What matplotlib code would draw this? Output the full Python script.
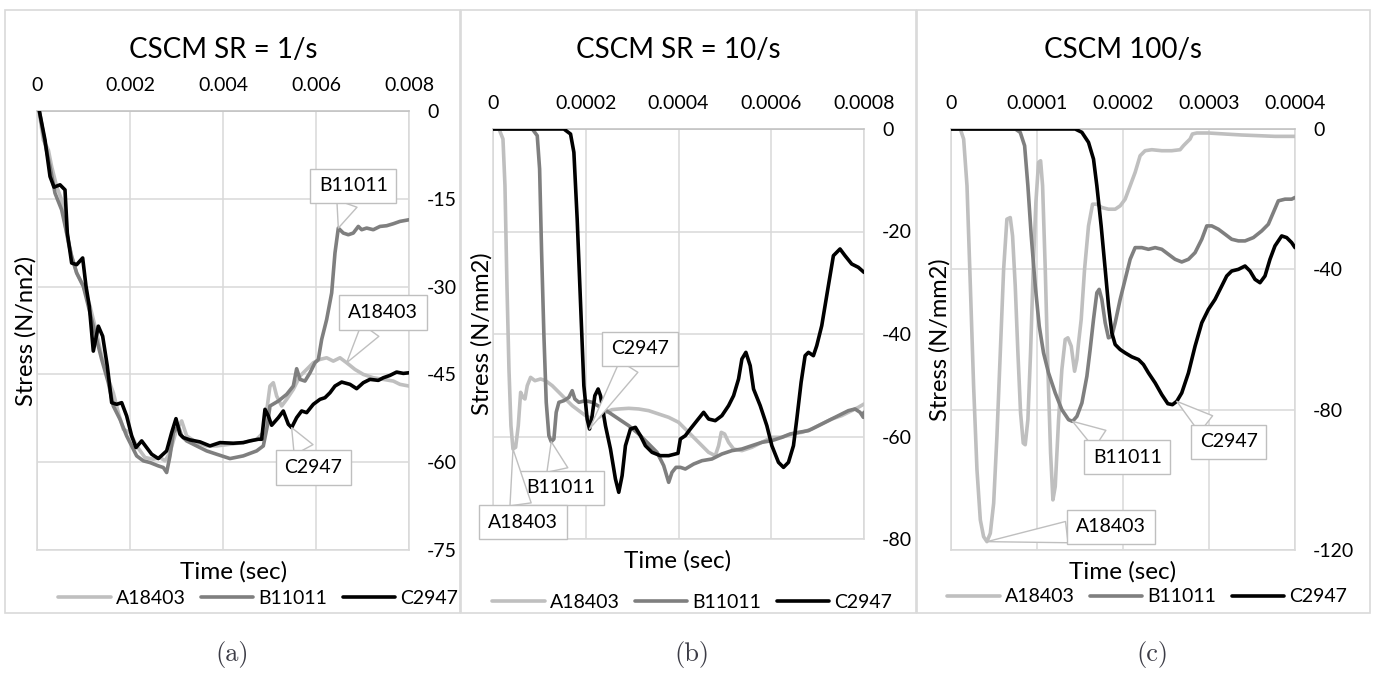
import numpy as np
import matplotlib.pyplot as plt
from matplotlib.patches import Rectangle

plt.rcParams['font.family'] = ['Lato', 'DejaVu Sans']
plt.rcParams['axes.unicode_minus'] = False

W, H = 1383, 674
LIGHT, MID, DARK = '#bfbfbf', '#7f7f7f', '#000000'
GRID = '#d9d9d9'

# ----------------------------
# Panel (a): CSCM SR = 1/s, time in ms, stress in N/mm2
# ----------------------------
a_A_t = [0.05, 0.136, 0.244, 0.315, 0.423, 0.53, 0.602, 0.674, 0.745, 0.853, 0.996, 1.14, 1.283,
         1.391, 1.534, 1.641, 1.749, 1.857, 2.0, 2.143, 2.322, 2.502, 2.645, 2.752, 2.86, 3.003,
         3.111, 3.218, 3.433, 3.649, 3.864, 4.15, 4.437, 4.724, 4.867, 4.953, 5.01, 5.082, 5.154,
         5.261, 5.369, 5.512, 5.656, 5.799, 5.942, 6.086, 6.229, 6.372, 6.516, 6.659, 6.838,
         7.017, 7.232, 7.448, 7.663, 7.806, 8.0]
a_A_s = [-0.4, -4.94, -6.65, -9.49, -12.9, -15.17, -19.15, -22.56, -24.83, -27.67, -29.94, -33.35,
         -37.9, -41.88, -45.85, -48.13, -51.53, -54.38, -54.94, -57.22, -59.2, -59.49, -59.2,
         -59.77, -58.35, -54.38, -52.95, -55.51, -56.65, -57.22, -57.22, -56.93, -56.65, -56.08,
         -54.94, -50.4, -46.99, -46.42, -48.69, -50.4, -49.26, -47.56, -45.28, -44.15, -43.01,
         -42.44, -42.16, -42.73, -42.16, -43.01, -44.15, -45.0, -45.57, -45.85, -46.14, -46.7, -46.99]

a_B_t = [0.05, 0.172, 0.28, 0.387, 0.53, 0.638, 0.745, 0.853, 0.996, 1.14, 1.247, 1.391, 1.534,
         1.641, 1.785, 1.928, 2.036, 2.143, 2.287, 2.43, 2.609, 2.717, 2.788, 2.86, 2.932, 3.039,
         3.111, 3.218, 3.433, 3.649, 3.864, 4.15, 4.437, 4.724, 4.867, 4.953, 5.01, 5.19, 5.369,
         5.512, 5.584, 5.656, 5.763, 5.871, 5.978, 6.05, 6.122, 6.229, 6.337, 6.408, 6.48, 6.587,
         6.695, 6.802, 6.91, 6.982, 7.089, 7.232, 7.376, 7.519, 7.663, 7.806, 8.0]
a_B_s = [0.0, -5.51, -9.49, -14.03, -16.88, -20.85, -24.83, -27.67, -29.94, -34.49, -37.9, -42.44,
         -46.42, -50.4, -52.67, -55.51, -57.22, -58.92, -59.77, -60.06, -60.63, -60.91, -61.76,
         -58.92, -54.94, -53.81, -55.51, -56.36, -57.22, -58.07, -58.64, -59.38, -58.92, -58.07,
         -57.22, -53.81, -50.4, -49.55, -48.41, -46.99, -44.03, -45.85, -46.14, -44.72, -43.01,
         -42.44, -39.03, -35.63, -31.08, -24.26, -20.0, -20.85, -21.14, -20.85, -19.72, -20.28,
         -20.0, -20.28, -19.72, -19.6, -19.26, -18.86, -18.58]

a_C_t = [0.05, 0.172, 0.28, 0.366, 0.495, 0.602, 0.652, 0.745, 0.853, 0.982, 1.054, 1.125, 1.211,
         1.319, 1.412, 1.512, 1.606, 1.713, 1.821, 1.928, 2.036, 2.129, 2.251, 2.358, 2.466, 2.609,
         2.788, 2.896, 2.989, 3.075, 3.147, 3.29, 3.505, 3.72, 3.935, 4.222, 4.437, 4.58, 4.76,
         4.831, 4.903, 4.975, 5.046, 5.19, 5.297, 5.405, 5.476, 5.584, 5.691, 5.799, 5.942, 6.086,
         6.193, 6.301, 6.408, 6.552, 6.731, 6.874, 7.017, 7.161, 7.34, 7.448, 7.591, 7.734, 7.878, 8.0]
a_C_s = [0.0, -4.94, -11.19, -13.01, -12.61, -13.47, -20.85, -25.97, -26.25, -25.11, -29.94, -33.35,
         -41.02, -36.76, -38.47, -43.58, -49.83, -50.11, -49.83, -52.1, -55.51, -57.5, -56.36,
         -57.5, -58.64, -59.38, -58.07, -54.94, -52.56, -55.23, -55.8, -56.19, -56.53, -57.22,
         -56.65, -56.76, -56.65, -56.36, -56.08, -56.08, -50.97, -52.1, -53.69, -52.39, -51.25,
         -53.52, -54.09, -52.39, -51.25, -51.53, -50.11, -49.26, -48.98, -48.13, -46.99, -46.31,
         -46.7, -47.44, -46.42, -45.85, -46.02, -45.57, -45.17, -44.6, -44.83, -44.72]

# ----------------------------
# Panel (b): CSCM SR = 10/s, time in microseconds
# ----------------------------
b_A_t = [0, 12.9, 21.5, 25.8, 30.1, 34.4, 38.7, 43.1, 48.8, 54.5, 59.6, 64.6, 68.9, 73.9, 81.1,
         90.4, 102.6, 113.4, 127.7, 142.1, 156.4, 170.8, 185.1, 199.5, 213.8, 228.2, 242.5, 256.9,
         271.2, 292.7, 314.3, 335.8, 357.3, 378.8, 400.4, 421.9, 443.4, 464.9, 479.3, 486.5, 492.2,
         499.4, 508.0, 518.8, 536.7, 558.2, 579.7, 601.3, 622.8, 644.3, 665.8, 687.4, 708.9, 730.4,
         751.9, 773.5, 787.8, 800]
b_A_s = [0, 0, -1.95, -11.06, -30.57, -46.83, -57.89, -62.44, -62.11, -57.89, -51.38, -52.36,
         -52.68, -50.08, -48.46, -49.11, -48.78, -49.11, -50.08, -51.38, -52.68, -53.98, -54.96,
         -55.93, -56.59, -56.26, -55.28, -54.76, -54.63, -54.5, -54.63, -54.96, -55.61, -56.26,
         -57.24, -59.19, -61.14, -63.09, -63.74, -61.79, -59.19, -59.51, -61.14, -62.44, -62.76,
         -62.11, -61.14, -60.16, -60.16, -59.51, -59.19, -58.54, -57.56, -56.59, -55.93, -54.96,
         -54.31, -53.66]

b_B_t = [0, 84.7, 95.4, 100.5, 104.8, 109.8, 114.8, 120.5, 125.6, 131.3, 136.3, 142.1, 152.8,
         163.6, 170.8, 176.5, 185.1, 199.5, 213.8, 231.8, 249.7, 271.2, 292.7, 314.3, 335.8, 353.7,
         368.1, 378.8, 386.0, 394.6, 404.0, 414.7, 432.7, 450.6, 472.1, 493.6, 515.2, 536.7, 558.2,
         579.7, 601.3, 622.8, 640.7, 658.7, 680.2, 701.7, 723.2, 744.8, 766.3, 780.6, 791.4, 798.6, 800]
b_B_s = [0, 0, -1.3, -7.8, -24.07, -40.33, -53.33, -59.84, -61.01, -60.49, -55.28, -53.33, -53.01,
         -52.36, -51.06, -52.68, -53.33, -53.01, -53.33, -54.31, -55.28, -56.59, -57.89, -59.51,
         -61.46, -63.09, -65.69, -68.94, -66.99, -66.02, -66.02, -66.34, -65.37, -64.72, -64.39,
         -63.41, -62.76, -62.44, -61.79, -61.14, -60.81, -60.16, -59.51, -59.19, -58.86, -57.89,
         -56.91, -55.93, -54.96, -54.63, -55.28, -56.26, -55.28]

b_C_t = [0, 152.8, 167.2, 174.4, 181.5, 188.7, 195.9, 203.0, 208.1, 213.8, 219.6, 226.7, 231.8,
         235.3, 242.5, 253.3, 264.0, 271.2, 278.4, 285.6, 296.3, 307.1, 317.9, 328.6, 343.0, 360.9,
         378.8, 398.9, 404.0, 414.7, 425.5, 439.8, 454.2, 464.9, 479.3, 493.6, 508.0, 518.8, 529.5,
         536.7, 545.3, 554.6, 561.8, 576.2, 590.5, 601.3, 615.6, 626.4, 637.1, 647.9, 655.1, 664.4,
         673.0, 680.2, 690.9, 698.1, 708.9, 723.2, 734.0, 748.3, 759.1, 773.5, 787.8, 800]
b_C_s = [0, 0, -0.98, -4.55, -17.56, -33.82, -50.08, -56.59, -58.54, -55.93, -52.03, -50.73, -52.03,
         -54.0, -57.89, -62.44, -68.29, -70.89, -67.64, -61.79, -58.54, -58.21, -59.84, -61.79,
         -63.09, -63.74, -63.74, -63.28, -60.49, -59.84, -58.54, -56.91, -55.28, -56.59, -56.91,
         -55.93, -53.98, -52.03, -48.78, -44.88, -43.58, -46.18, -50.73, -53.98, -57.89, -61.79,
         -65.04, -66.02, -65.04, -61.79, -56.59, -49.43, -44.23, -43.58, -44.23, -42.28, -38.37,
         -30.57, -24.72, -23.41, -24.72, -26.34, -26.99, -27.97]

# ----------------------------
# Panel (c): CSCM 100/s, time in microseconds
# ----------------------------
c_A_t = [0, 10.8, 14.7, 18.6, 22.5, 26.3, 30.2, 34.1, 37.9, 41.8, 45.7, 49.6, 53.4, 57.3, 61.2,
         65.0, 68.9, 71.6, 74.7, 77.8, 80.9, 84.0, 86.3, 89.4, 92.5, 95.6, 98.7, 101.8, 104.2,
         106.5, 109.6, 112.7, 115.8, 118.5, 121.2, 125.1, 128.9, 132.8, 135.9, 139.8, 143.7, 146.4,
         148.3, 151.4, 155.3, 159.9, 164.6, 169.6, 175.4, 183.1, 190.9, 196.7, 202.5, 208.3, 214.1,
         219.9, 225.7, 233.5, 245.1, 256.7, 266.4, 270.3, 274.1, 278.0, 280.7, 285.8, 299.3, 318.7,
         338.0, 357.4, 376.7, 400]
c_A_s = [0, 0, -2.86, -16.19, -44.76, -73.33, -97.14, -111.43, -116.19, -117.62, -115.24, -106.67,
         -87.62, -63.81, -40.0, -25.71, -25.24, -30.48, -44.76, -63.81, -80.95, -89.52, -90.0,
         -82.86, -63.81, -40.0, -20.95, -9.52, -9.05, -16.19, -40.0, -68.57, -92.38, -105.71,
         -101.9, -82.86, -68.57, -60.0, -59.52, -61.9, -69.05, -65.71, -60.95, -54.29, -40.0,
         -27.62, -21.43, -21.43, -22.38, -22.86, -22.86, -21.9, -20.0, -16.19, -12.38, -7.62,
         -6.19, -5.9, -6.19, -6.19, -5.9, -4.76, -3.81, -2.86, -1.43, -1.14, -1.14, -1.43, -1.71,
         -1.9, -2.1, -2.1]

c_B_t = [0, 74.7, 80.5, 85.6, 89.4, 93.3, 98.0, 102.6, 107.6, 113.4, 121.2, 128.9, 136.7, 141.3,
         146.4, 152.2, 158.0, 161.8, 165.7, 169.6, 172.3, 175.4, 179.3, 183.1, 187.0, 190.9, 196.7,
         202.5, 208.3, 214.1, 221.9, 229.6, 237.4, 245.1, 252.8, 260.6, 268.3, 276.1, 283.8, 291.6,
         297.4, 303.2, 310.9, 318.7, 326.4, 334.2, 341.9, 351.6, 361.3, 369.0, 374.8, 380.6, 388.4,
         396.1, 400]
c_B_s = [0, 0, -0.95, -4.76, -16.19, -30.48, -44.76, -56.19, -63.81, -69.52, -75.24, -80.0, -82.86,
         -83.33, -81.9, -78.1, -70.48, -62.86, -54.29, -46.67, -45.71, -48.57, -55.24, -59.52,
         -59.05, -55.24, -48.57, -42.86, -37.14, -33.81, -33.81, -34.29, -33.81, -34.29, -35.71,
         -37.14, -37.9, -37.14, -35.24, -31.43, -27.62, -27.62, -28.57, -30.0, -31.43, -31.9,
         -31.9, -30.95, -29.05, -27.14, -23.81, -20.48, -20.0, -20.0, -19.52]

c_C_t = [0, 144.4, 152.2, 159.9, 165.7, 169.6, 174.6, 179.3, 183.2, 187.0, 190.9, 196.7, 202.5,
         210.3, 218.0, 223.8, 229.6, 237.4, 245.1, 252.1, 257.5, 262.5, 268.3, 276.1, 283.8, 291.6,
         299.3, 307.0, 314.8, 320.6, 326.4, 334.2, 341.9, 347.7, 353.5, 359.3, 365.1, 370.9, 376.7,
         384.5, 390.3, 396.1, 400]
c_C_s = [0, 0, -0.95, -3.81, -8.57, -16.19, -27.62, -40.0, -50.48, -58.1, -61.43, -62.86, -63.81,
         -64.95, -65.71, -67.14, -69.52, -72.38, -75.71, -78.29, -78.57, -77.62, -75.24, -69.52,
         -61.9, -55.24, -51.43, -48.57, -44.76, -41.9, -40.48, -40.0, -39.05, -40.48, -42.86,
         -43.81, -41.9, -37.14, -33.33, -30.48, -30.95, -32.38, -33.81]

series_names = ['A18403', 'B11011', 'C2947']
series_colors = [LIGHT, MID, DARK]

titles = ['CSCM SR = 1/s', 'CSCM SR = 10/s', 'CSCM 100/s']
ylabels = ['Stress (N/nn2)', 'Stress (N/mm2)', 'Stress (N/mm2)']
captions = ['(a)', '(b)', '(c)']

xticks = [[0, 0.002, 0.004, 0.006, 0.008],
          [0, 0.0002, 0.0004, 0.0006, 0.0008],
          [0, 0.0001, 0.0002, 0.0003, 0.0004]]
xticklabels = [['0', '0.002', '0.004', '0.006', '0.008'],
               ['0', '0.0002', '0.0004', '0.0006', '0.0008'],
               ['0', '0.0001', '0.0002', '0.0003', '0.0004']]
yticks = [[0, -15, -30, -45, -60, -75],
          [0, -20, -40, -60, -80],
          [0, -40, -80, -120]]

panels = [
    (1e-3, [(a_A_t, a_A_s), (a_B_t, a_B_s), (a_C_t, a_C_s)]),
    (1e-6, [(b_A_t, b_A_s), (b_B_t, b_B_s), (b_C_t, b_C_s)]),
    (1e-6, [(c_A_t, c_A_s), (c_B_t, c_B_s), (c_C_t, c_C_s)]),
]

# callouts: (series index, point index, label position in data units)
callouts = [
    [(1, 50, (0.0068, -12.8)), (0, 49, (0.00744, -34.4)), (2, 46, (0.00594, -60.9))],
    [(2, 8, (0.000317, -42.9)), (1, 8, (0.000147, -70.0)), (0, 7, (0.0000647, -76.7))],
    [(0, 9, (0.000186, -113.4)), (1, 13, (0.000205, -93.5)), (2, 21, (0.000323, -89.2))],
]

# layout in pixels: axes (left, top, right, bottom), frame (left, right), legend centre
axes_px = [(37, 111, 409, 550), (493, 129, 864, 539), (951, 129, 1295, 550)]
frame_px = [(5, 460), (461, 916), (917, 1370)]
legend_px = [(258, 598), (692, 602), (1147, 597)]
xlabel_x = [234, 678, 1123]
caption_x = [232, 692, 1152]

fig = plt.figure(figsize=(W / 100, H / 100), dpi=100)

for i in range(3):
    l, t, r, b = axes_px[i]
    ax = fig.add_axes([l / W, 1 - b / H, (r - l) / W, (b - t) / H])
    scale, data = panels[i]

    lines = []
    for k, (ts, ss) in enumerate(data):
        ln, = ax.plot(np.array(ts) * scale, ss, color=series_colors[k], lw=2.6,
                      solid_joinstyle='round', solid_capstyle='round',
                      label=series_names[k], zorder=3 + k)
        lines.append(ln)

    ax.set_xlim(xticks[i][0], xticks[i][-1])
    ax.set_ylim(yticks[i][-1], 0)
    ax.set_xticks(xticks[i])
    ax.set_xticklabels(xticklabels[i])
    ax.set_yticks(yticks[i])
    ax.xaxis.tick_top()
    ax.yaxis.tick_right()
    ax.tick_params(axis='x', length=0, pad=12, labelsize=14)
    ax.tick_params(axis='y', length=0, pad=13, labelsize=14)
    ax.grid(True, color=GRID, lw=1.1)
    ax.set_axisbelow(True)
    for side, sp in ax.spines.items():
        sp.set_color(GRID)
        sp.set_linewidth(1.1)
    ax.spines['top'].set_color(LIGHT)

    ax.set_title(titles[i], fontsize=20, pad=0, y=1 + (t - 50) / (b - t), va='center')
    ax.text(-11 / (r - l), 0.5, ylabels[i], transform=ax.transAxes, rotation=90,
            ha='center', va='center', fontsize=17)
    fig.text(xlabel_x[i] / W, 1 - (b + 22) / H, 'Time (sec)', ha='center', va='center',
             fontsize=17.5)

    for k, idx, pos in callouts[i]:
        ts, ss = data[k]
        ax.annotate(series_names[k], xy=(ts[idx] * scale, ss[idx]), xytext=pos,
                    ha='center', va='center', fontsize=14, zorder=10,
                    annotation_clip=False,
                    bbox=dict(boxstyle='square,pad=0.45', fc='white', ec=LIGHT, lw=1),
                    arrowprops=dict(arrowstyle='wedge,tail_width=1.1', fc='white', ec=LIGHT,
                                    lw=1, shrinkA=0, shrinkB=0))

    lx, ly = legend_px[i]
    fig.legend(handles=lines, loc='center', bbox_to_anchor=(lx / W, 1 - ly / H), ncol=3,
               frameon=False, fontsize=14, handlelength=2.7, handletextpad=0.25,
               columnspacing=0.8, borderpad=0)

    fl, fr = frame_px[i]
    fig.add_artist(Rectangle((fl / W, 1 - 613 / H), (fr - fl) / W, 603 / H,
                             transform=fig.transFigure, fill=False, ec=GRID, lw=1.2))
    fig.text(caption_x[i] / W, 1 - 655 / H, captions[i], ha='center', va='center',
             fontsize=19, family='cmr10', color='#3c3c46')

fig.savefig('out.png', dpi=100)
